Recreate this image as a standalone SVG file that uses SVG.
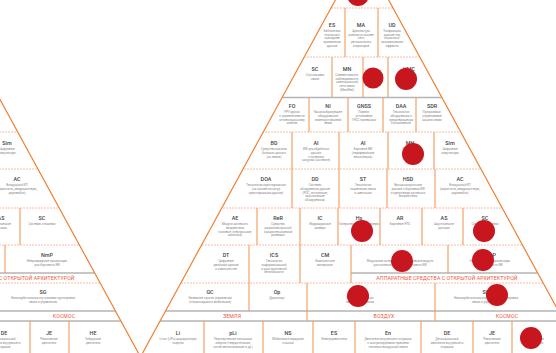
<svg xmlns="http://www.w3.org/2000/svg" xmlns:xlink="http://www.w3.org/1999/xlink" width="556" height="353" viewBox="0 0 556 353">
<style>
.t{font-family:Roboto,"Liberation Sans",sans-serif;font-size:5.4px;font-weight:500;fill:#444;text-anchor:middle}
.d{font-family:Roboto,"Liberation Sans",sans-serif;font-size:3px;fill:#888;text-anchor:middle}
.b{font-family:Roboto,"Liberation Sans",sans-serif;font-size:5.2px;fill:#ec5a3c;text-anchor:middle;letter-spacing:0.1px}
.v{stroke:#f29a5e;stroke-width:1.1;fill:none}
.h{stroke:#f6ab8f;stroke-width:0.8;stroke-dasharray:2 1;fill:none}
.g{stroke:#b4b4b4;stroke-width:1.6;fill:none}
.o{stroke:#ee8236;stroke-width:1.2;fill:none}
.r{fill:#c8161e}
</style>
<defs>
<clipPath id="clipP"><polygon points="362,-48.8 138.8,360 585.2,360"/></clipPath>
</defs>
<rect width="556" height="353" fill="#fff"/>
<g id="pyramid">
 <g id="rows" clip-path="url(#clipP)">
  <line class="h" x1="100" y1="8" x2="600" y2="8"/>
  <line class="h" x1="100" y1="57" x2="600" y2="57"/>
  <line class="g" x1="100" y1="97.5" x2="600" y2="97.5"/>
  <line class="h" x1="100" y1="132" x2="600" y2="132"/>
  <line class="h" x1="100" y1="169" x2="600" y2="169"/>
  <line class="h" x1="100" y1="208" x2="600" y2="208"/>
  <line class="h" x1="100" y1="245" x2="600" y2="245"/>
  <line class="g" x1="351" y1="273" x2="600" y2="273"/>
  <line class="h" x1="100" y1="283" x2="600" y2="283"/>
  <line class="g" x1="100" y1="311" x2="600" y2="311"/>
  <line class="g" x1="100" y1="321" x2="600" y2="321"/>
 </g>
 <g id="dividers">
  <path class="v" d="M345 8V57M378 8V57M332 57V97M363 57V97M388 57V97M309 98V132M348 98V132M383 98V132M416 98V132M292 132V169M339 132V169M388 132V169M434 132V169M292 169V208M339 169V208M387 169V208M435 169V208M257 208V245M300 208V245M338 208V245M380 208V245M422 208V245M463 208V245M249 245V283M300 245V283M351 245V283M448 245V273M249 283V311M307 283V321M435 283V321M204 321V353M263 321V353M313 321V353M355 321V353M421 321V353M473 321V353M512 321V353"/>
 </g>
 <g id="c-ES"><text class="t" x="332" y="27">ES</text><text class="d" y="32"><tspan x="332">Библиотека</tspan><tspan x="332" dy="3.7">эталонных</tspan><tspan x="332" dy="3.7">сценариев</tspan><tspan x="332" dy="3.7">применения</tspan><tspan x="332" dy="3.7">дронов</tspan></text></g>
 <g id="c-MA"><text class="t" x="361" y="27">MA</text><text class="d" y="32"><tspan x="361">Архитектура</tspan><tspan x="361" dy="3.7">роения на основе</tspan><tspan x="361" dy="3.7">сети</tspan><tspan x="361" dy="3.7">региональных</tspan><tspan x="361" dy="3.7">операторов</tspan></text></g>
 <g id="c-UD"><text class="t" x="392" y="27">UD</text><text class="d" y="32"><tspan x="392">Унификация</tspan><tspan x="392" dy="3.7">дронов под</tspan><tspan x="392" dy="3.7">социально-</tspan><tspan x="392" dy="3.7">экономические</tspan><tspan x="392" dy="3.7">эффекты</tspan></text></g>
 <g id="c-SC1"><text class="t" x="315" y="71">SC</text><text class="d" y="76"><tspan x="315">Спутниковая</tspan><tspan x="315" dy="3.7">связь</tspan></text></g>
 <g id="c-MN"><text class="t" x="347" y="71">MN</text><text class="d" y="76"><tspan x="347">Совместимость-</tspan><tspan x="347" dy="3.7">наблюдаемость</tspan><tspan x="347" dy="3.7">навигационной</tspan><tspan x="347" dy="3.7">сети связи</tspan><tspan x="347" dy="3.7">(MeshNet)</tspan></text></g>
 <g id="c-HMC"><text class="t" x="409" y="71">HMC</text><text class="d" y="76"><tspan x="409">Гибридная</tspan><tspan x="409" dy="3.7">связь</tspan></text></g>
 <g id="c-FO"><text class="t" x="292" y="108">FO</text><text class="d" y="113"><tspan x="292">FPV-дроны</tspan><tspan x="292" dy="3.8">с управлением по</tspan><tspan x="292" dy="3.8">оптоволоконному</tspan><tspan x="292" dy="3.8">кабелю</tspan></text></g>
 <g id="c-NI"><text class="t" x="328" y="108">NI</text><text class="d" y="113"><tspan x="328">Каналообразующее</tspan><tspan x="328" dy="3.8">оборудование</tspan><tspan x="328" dy="3.8">помехоустойчивой</tspan><tspan x="328" dy="3.8">связи</tspan></text></g>
 <g id="c-GNSS"><text class="t" x="364" y="108">GNSS</text><text class="d" y="113"><tspan x="364">Помехо-</tspan><tspan x="364" dy="3.8">устойчивые</tspan><tspan x="364" dy="3.8">ГНСС-приемники</tspan></text></g>
 <g id="c-DAA"><text class="t" x="401" y="108">DAA</text><text class="d" y="113"><tspan x="401">Технологии</tspan><tspan x="401" dy="3.8">обнаружения и</tspan><tspan x="401" dy="3.8">предотвращения</tspan><tspan x="401" dy="3.8">столкновений</tspan></text></g>
 <g id="c-SDR"><text class="t" x="432" y="108">SDR</text><text class="d" y="113"><tspan x="432">Программно-</tspan><tspan x="432" dy="3.8">управляемые</tspan><tspan x="432" dy="3.8">каналы связи</tspan></text></g>
 <g id="c-BD"><text class="t" x="274" y="145">BD</text><text class="d" y="150"><tspan x="274">Средства анализа</tspan><tspan x="274" dy="3.8">больших данных</tspan><tspan x="274" dy="3.8">(на земле)</tspan></text></g>
 <g id="c-AI1"><text class="t" x="316" y="145">AI</text><text class="d" y="150"><tspan x="316">ИИ для обработки</tspan><tspan x="316" dy="3.8">данных</tspan><tspan x="316" dy="3.8">с полезных</tspan><tspan x="316" dy="3.8">нагрузок (на земле)</tspan></text></g>
 <g id="c-AI2"><text class="t" x="363" y="145">AI</text><text class="d" y="150"><tspan x="363">Бортовой ИИ</tspan><tspan x="363" dy="3.8">(периферийные</tspan><tspan x="363" dy="3.8">вычисления)</tspan></text></g>
 <g id="c-MH"><text class="t" x="410" y="145">MH</text><text class="d" y="150"><tspan x="410">Обработка</tspan><tspan x="410" dy="3.8">с бортовых</tspan><tspan x="410" dy="3.8">модулей</tspan></text></g>
 <g id="c-Sim"><text class="t" x="450" y="145">Sim</text><text class="d" y="150"><tspan x="450">Цифровые</tspan><tspan x="450" dy="3.8">симуляторы</tspan></text></g>
 <g id="c-DOA"><text class="t" x="266" y="181">DOA</text><text class="d" y="186"><tspan x="266">Технология идентификации</tspan><tspan x="266" dy="3.8">(на основе сигнатур</tspan><tspan x="266" dy="3.8">идентификация дронов)</tspan></text></g>
 <g id="c-DD"><text class="t" x="315" y="181">DD</text><text class="d" y="186"><tspan x="315">Системы</tspan><tspan x="315" dy="3.8">обнаружения дронов</tspan><tspan x="315" dy="3.8">(РЛС, оптические,</tspan><tspan x="315" dy="3.8">акустические</tspan><tspan x="315" dy="3.8">обнаружения)</tspan></text></g>
 <g id="c-ST"><text class="t" x="363" y="181">ST</text><text class="d" y="186"><tspan x="363">Технологии</tspan><tspan x="363" dy="3.8">подавления связи</tspan><tspan x="363" dy="3.8">и навигации</tspan></text></g>
 <g id="c-HSD"><text class="t" x="408" y="181">HSD</text><text class="d" y="186"><tspan x="408">Высокоскоростные</tspan><tspan x="408" dy="3.8">данные с бортовым ИИ</tspan><tspan x="408" dy="3.8">и средствами активного</tspan><tspan x="408" dy="3.8">воздействия</tspan></text></g>
 <g id="c-AC"><text class="t" x="460" y="181">AC</text><text class="d" y="186"><tspan x="460">Воздушный КП</tspan><tspan x="460" dy="3.8">(аэростаты, квадрокоптеры,</tspan><tspan x="460" dy="3.8">дирижабли)</tspan></text></g>
 <g id="c-AE"><text class="t" x="235" y="220">AE</text><text class="d" y="225"><tspan x="235">Модули активного</tspan><tspan x="235" dy="3.8">воздействия</tspan><tspan x="235" dy="3.8">(газовые, электронные,</tspan><tspan x="235" dy="3.8">кинетика)</tspan></text></g>
 <g id="c-ReR"><text class="t" x="278" y="220">ReR</text><text class="d" y="225"><tspan x="278">Средства</tspan><tspan x="278" dy="3.8">радиоэлектронной</tspan><tspan x="278" dy="3.8">и радиотехнической</tspan><tspan x="278" dy="3.8">разведки</tspan></text></g>
 <g id="c-IC"><text class="t" x="320" y="220">IC</text><text class="d" y="225"><tspan x="320">Инфракрасные</tspan><tspan x="320" dy="3.8">камеры</tspan></text></g>
 <g id="c-Hs"><text class="t" x="359" y="220">Hs</text><text class="d" y="225"><tspan x="359">Гиперспектральные камеры</tspan></text></g>
 <g id="c-AR"><text class="t" x="400" y="220">AR</text><text class="d" y="225"><tspan x="400">Бортовые РЛС</tspan></text></g>
 <g id="c-AS"><text class="t" x="444" y="220">AS</text><text class="d" y="225"><tspan x="444">Акустические</tspan><tspan x="444" dy="3.8">датчики</tspan></text></g>
 <g id="c-SC2"><text class="t" x="485" y="220">SC</text><text class="d" y="225"><tspan x="485">Системы стыковки</tspan></text></g>
 <g id="c-DT"><text class="t" x="226" y="257">DT</text><text class="d" y="262"><tspan x="226">Цифровые</tspan><tspan x="226" dy="3.8">двойники дронов</tspan><tspan x="226" dy="3.8">и компонентов</tspan></text></g>
 <g id="c-ICS"><text class="t" x="274" y="257">ICS</text><text class="d" y="262"><tspan x="274">Технологии</tspan><tspan x="274" dy="3.8">информационной</tspan><tspan x="274" dy="3.8">и конструктивной</tspan><tspan x="274" dy="3.8">безопасности</tspan></text></g>
 <g id="c-CM"><text class="t" x="325" y="257">CM</text><text class="d" y="262"><tspan x="325">Композитные</tspan><tspan x="325" dy="3.8">материалы</tspan></text></g>
 <g id="c-MM"><text class="t" x="400" y="257">MM</text><text class="d" y="262"><tspan x="400">Модульные интерфейсы и адаптивные модули</tspan><tspan x="400" dy="3.8">для полезных нагрузок бортового ИИ</tspan></text></g>
 <g id="c-NmP"><text class="t" x="490" y="257">NmP</text><text class="d" y="262"><tspan x="490">Нейроморфные процессоры</tspan><tspan x="490" dy="3.8">для бортового ИИ</tspan></text></g>
 <g id="band-hw"><text class="b" x="447" y="280">АППАРАТНЫЕ СРЕДСТВА С ОТКРЫТОЙ АРХИТЕКТУРОЙ</text></g>
 <g id="c-GC"><text class="t" x="210" y="294">GC</text><text class="d" y="299"><tspan x="210">Наземные пункты управления</tspan><tspan x="210" dy="3.8">(стационарные и мобильные)</tspan></text></g>
 <g id="c-Op"><text class="t" x="277" y="294">Op</text><text class="d" y="299"><tspan x="277">Дронопорт</tspan></text></g>
 <g id="c-GS"><text class="t" x="360" y="294">GS</text><text class="d" y="299"><tspan x="360">Наземные станции</tspan><tspan x="360" dy="3.8">связи и управления</tspan></text></g>
 <g id="c-SG"><text class="t" x="486" y="294">SG</text><text class="d" y="299"><tspan x="486">Низкоорбитальная спутниковая группировка</tspan><tspan x="486" dy="3.8">связи и управления</tspan></text></g>
 <g id="band-env"><text class="b" x="232" y="318">ЗЕМЛЯ</text><text class="b" x="384" y="318">ВОЗДУХ</text><text class="b" x="507" y="318">КОСМОС</text></g>
 <g id="c-Li"><text class="t" x="178" y="335">Li</text><text class="d" y="340"><tspan x="178">Li-ion (LiPo) аккумуляторы</tspan><tspan x="178" dy="3.8">энергии</tspan></text></g>
 <g id="c-pLi"><text class="t" x="233" y="335">pLi</text><text class="d" y="340"><tspan x="233">Перспективные источники</tspan><tspan x="233" dy="3.8">энергии (твердотельные,</tspan><tspan x="233" dy="3.8">литий-металлические и др.)</tspan></text></g>
 <g id="c-NS"><text class="t" x="288" y="335">NS</text><text class="d" y="340"><tspan x="288">Мобильные зарядные</tspan><tspan x="288" dy="3.8">станции</tspan></text></g>
 <g id="c-ES2"><text class="t" x="334" y="335">ES</text><text class="d" y="340"><tspan x="334">Электродвигатели</tspan></text></g>
 <g id="c-En"><text class="t" x="388" y="335">En</text><text class="d" y="340"><tspan x="388">Двигатели внутреннего сгорания</tspan><tspan x="388" dy="3.8">с контролируемым горением</tspan><tspan x="388" dy="3.8">топливно-воздушной смеси</tspan></text></g>
 <g id="c-DE"><text class="t" x="447" y="335">DE</text><text class="d" y="340"><tspan x="447">Детонационный</tspan><tspan x="447" dy="3.8">двигатель внутреннего</tspan><tspan x="447" dy="3.8">сгорания</tspan></text></g>
 <g id="c-JE"><text class="t" x="492" y="335">JE</text><text class="d" y="340"><tspan x="492">Реактивные</tspan><tspan x="492" dy="3.8">двигатели</tspan></text></g>
 <g id="c-HE"><text class="t" x="536" y="335">HE</text><text class="d" y="340"><tspan x="536">Гибридные</tspan><tspan x="536" dy="3.8">двигатели</tspan></text></g>
 <path id="outline" class="o" d="M138.8,360 L362,-48.8 L585.2,360"/>
</g>
<use id="pyramid-left" xlink:href="#pyramid" href="#pyramid" transform="translate(-443,0)"/>
<g id="markers">
 <circle class="r" cx="358" cy="-5" r="11"/>
 <circle class="r" cx="373" cy="78" r="10.5"/>
 <circle class="r" cx="406" cy="79" r="11"/>
 <circle class="r" cx="413" cy="154" r="11"/>
 <circle class="r" cx="362" cy="231" r="11"/>
 <circle class="r" cx="484" cy="231" r="11"/>
 <circle class="r" cx="402" cy="261" r="11"/>
 <circle class="r" cx="483" cy="260" r="11"/>
 <circle class="r" cx="358" cy="296" r="11"/>
 <circle class="r" cx="497" cy="295" r="11"/>
 <circle class="r" cx="531" cy="338" r="11"/>
</g>
</svg>
